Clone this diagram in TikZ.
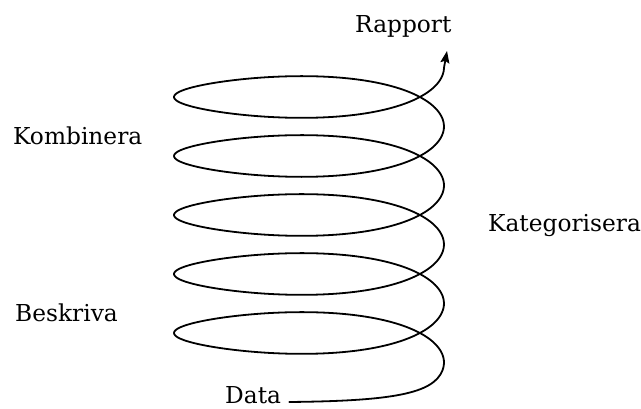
\documentclass[tikz,border=0pt]{standalone}
\usepackage{fontspec}
\setmainfont{DejaVu Serif}
\usetikzlibrary{arrows.meta}
\begin{document}
\begin{tikzpicture}[x=1pt,y=1pt,
  lbl/.style={anchor=base west, inner sep=0pt, font=\fontsize{23.3}{27}\selectfont},
  spiral/.style={line width=1.8pt, line join=round, line cap=round,
    -{Stealth[length=12pt,width=9pt,inset=2pt]}}]
\useasboundingbox (0,0) rectangle (641,409);
\node[lbl] (rapport) at (355,376) {Rapport};
\node[lbl] (kombinera) at (13,264) {Kombinera};
\node[lbl] (beskriva) at (15,87) {Beskriva};
\node[lbl] (kategorisera) at (488,177) {Kategorisera};
\node[lbl] (data) at (225,5) {Data};
\coordinate (p) at (442.5,38.7);
\coordinate (tip) at (447,358);
\draw[spiral] ([xshift=8pt,yshift=2pt]data.base east) .. controls (392,8) and (433.5,15.3) .. (p)
  -- plot[domain=-0.15:31.416, samples=500, smooth]
     ({309+135*cos(\x r)},{46.5+43.1*sin(\x r)*(0.65+0.175*(1+cos(\x r)))+9.39*\x})
  -- (tip);
\end{tikzpicture}
\end{document}
